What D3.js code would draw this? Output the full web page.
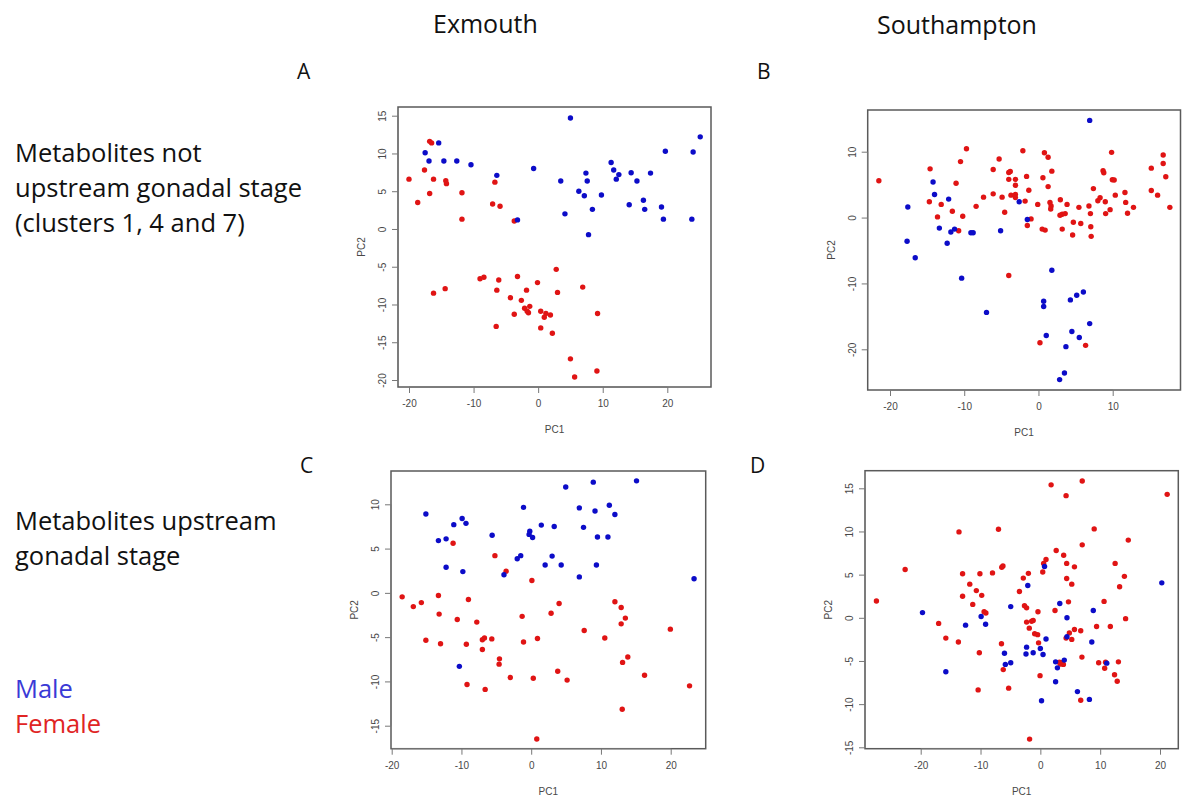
<!DOCTYPE html>
<html>
<head>
<meta charset="utf-8">
<script src="https://cdn.jsdelivr.net/npm/d3@7"></script>
<style>
  body { margin: 0; background: #fff; }
  svg { display: block; }
  .lbl { font-family: "Open Sans", sans-serif; fill: #111; }
  .tick text { font-family: "Liberation Sans", Arial, sans-serif; font-size: 10px; fill: #484848; }
  .ttl { font-family: "Liberation Sans", Arial, sans-serif; font-size: 10px; fill: #484848; }
</style>
</head>
<body>
<svg id="chart" width="1184" height="798"></svg>
<script>
// PC1 / PC2 scores, [PC1, PC2]
const aMale = [[5.0,14.7],[25.1,12.2],[-15.4,11.4],[-17.5,10.1],[-16.9,9.0],[-14.6,9.0],[-12.6,9.0],[-10.4,8.5],
  [-6.4,7.1],[-0.7,8.0],[19.7,10.3],[24.0,10.2],[11.3,8.8],[11.7,7.8],[12.5,7.2],[12.1,6.6],[14.4,7.45],
  [15.3,6.35],[17.4,7.4],[7.4,7.4],[7.6,6.35],[3.5,6.35],[6.3,5.0],[7.15,4.4],[9.8,4.5],[14.1,3.2],
  [16.3,3.8],[16.5,2.6],[19.1,2.9],[8.4,2.6],[4.15,2.0],[-3.2,1.2],[19.4,1.3],[23.8,1.3],[7.8,-0.75]];
const aFemale = [[-16.8,11.6],[-16.5,11.4],[-17.6,7.8],[-20.0,6.6],[-16.2,6.6],[-14.3,6.4],[-14.2,6.0],[-6.7,6.2],
  [-16.8,4.7],[-11.8,4.8],[-18.65,3.5],[-7.05,3.3],[-5.9,3.0],[-11.8,1.3],[-3.7,1.05],[2.8,-5.35],[-9.0,-6.6],
  [-8.4,-6.4],[-3.2,-6.3],[-6.1,-6.75],[-0.1,-7.1],[6.9,-7.7],[-6.4,-8.1],[-1.8,-8.1],[3.0,-8.4],[-16.2,-8.5],
  [-14.4,-7.9],[-4.3,-9.1],[-2.6,-9.45],[-1.3,-10.25],[-2.1,-10.5],[-1.5,-11.1],[-1.7,-10.9],[-3.7,-11.3],
  [0.4,-10.9],[1.2,-11.2],[0.95,-11.7],[1.9,-11.4],[9.2,-11.2],[-6.5,-12.9],[0.4,-13.1],[2.2,-13.8],
  [5.0,-17.2],[5.65,-19.6],[9.1,-18.8]];

const bMale = [[6.9,14.75],[-14.2,5.4],[-14.0,3.5],[-17.6,1.6],[-12.1,2.8],[-2.6,2.4],[-13.35,-1.6],[-11.8,-2.2],
  [-11.3,-1.75],[-9.1,-2.3],[-8.8,-2.3],[-5.1,-2.0],[-1.5,-0.3],[-12.3,-3.9],[-17.7,-3.6],[-16.6,-6.1],
  [-10.35,-9.2],[1.8,-8.0],[0.7,-12.7],[0.7,-13.5],[4.3,-12.5],[5.15,-11.8],[6.05,-11.3],[6.9,-16.1],
  [4.5,-17.3],[1.05,-17.9],[5.5,-18.2],[3.7,-19.6],[3.5,-23.6],[2.85,-24.6],[-7.0,-14.4]];
const bFemale = [[-21.5,5.6],[-14.6,7.4],[-14.7,2.4],[-13.1,2.0],[-13.6,0.1],[-11.6,0.95],[-11.1,5.2],[-10.5,8.5],
  [-9.7,10.45],[-10.2,0.2],[-10.75,-2.0],[-8.4,1.7],[-7.4,3.1],[-6.1,7.3],[-6.1,3.6],[-5.3,8.9],[-4.9,3.1],
  [-4.55,0.8],[-4.0,-8.8],[-4.0,6.85],[-3.8,7.0],[-4.0,5.8],[-3.7,3.4],[-3.1,5.8],[-3.1,4.9],[-3.1,3.5],
  [-3.1,3.05],[-2.1,10.15],[-1.6,6.25],[-1.8,2.5],[-1.3,4.15],[-1.5,-1.2],[-1.0,-0.2],[-0.1,2.0],[0.8,9.85],
  [0.6,6.05],[1.3,9.15],[1.3,4.7],[1.55,2.3],[1.7,1.75],[1.65,1.3],[1.8,7.05],[0.5,-1.75],[0.9,-1.9],
  [2.95,2.7],[2.9,0.35],[3.2,0.5],[3.6,0.6],[3.85,2.0],[3.2,-1.75],[0.2,-19.0],[4.6,-2.65],[4.7,-0.7],
  [5.45,1.55],[5.7,-0.9],[6.35,-19.4],[6.8,1.75],[7.0,0.6],[7.05,-1.4],[7.1,-2.85],[7.4,4.4],[8.0,2.55],
  [8.3,3.0],[8.7,7.1],[8.8,6.8],[9.0,2.4],[9.05,0.6],[9.65,1.2],[9.85,9.9],[9.95,5.75],[10.2,5.7],[10.35,3.4],
  [11.65,3.8],[11.75,2.3],[12.0,0.65],[12.8,1.55],[15.2,7.5],[15.2,4.1],[16.05,3.4],[16.8,9.5],[16.8,8.2],
  [17.15,6.2],[17.7,1.55]];

const cMale = [[-15.1,8.9],[-13.3,5.9],[-12.2,6.1],[-11.1,7.7],[-9.9,8.4],[-9.35,7.85],[-12.2,2.9],[-9.8,2.4],
  [-5.6,6.5],[-1.1,9.65],[-2.0,3.85],[-1.5,4.2],[-3.9,2.05],[-0.2,6.95],[-0.3,6.6],[0.2,6.25],[1.45,7.65],
  [3.3,7.5],[2.0,3.15],[3.0,4.15],[4.3,3.15],[4.95,11.95],[6.9,9.6],[7.5,7.4],[8.9,12.5],[9.15,9.25],
  [9.5,6.3],[9.35,3.15],[6.9,1.8],[11.2,9.9],[12.0,8.85],[11.0,6.3],[15.1,12.65],[23.35,1.6],[-10.3,-8.3]];
const cFemale = [[-11.2,5.6],[-5.2,4.2],[-3.6,2.45],[0.1,1.4],[-18.5,-0.45],[-16.9,-1.55],[-15.75,-1.1],[-13.3,-0.3],
  [-9.0,-0.75],[-13.2,-2.4],[-10.6,-3.0],[-7.8,-3.3],[-15.1,-5.35],[-13.0,-5.75],[-9.3,-5.8],[-7.0,-5.3],
  [-6.7,-5.1],[-5.65,-5.2],[-7.0,-6.4],[-4.55,-7.45],[-4.6,-8.05],[-9.2,-10.35],[-6.6,-10.9],[-3.0,-9.55],
  [-1.3,-2.65],[-1.1,-5.55],[0.9,-5.15],[0.3,-9.65],[0.8,-16.5],[2.85,-2.3],[4.0,-1.2],[3.8,-8.85],
  [5.15,-9.85],[7.6,-4.25],[10.55,-5.1],[12.0,-1.0],[12.9,-1.65],[13.5,-2.85],[12.9,-3.5],[13.85,-7.25],
  [13.1,-7.85],[13.05,-13.15],[16.25,-9.3],[19.95,-4.1],[22.7,-10.5]];

const dMale = [[-19.7,0.6],[-12.5,-0.85],[-9.9,0.15],[-9.15,-0.75],[-15.8,-6.25],[-6.0,-4.1],[-5.85,-5.4],
  [-4.95,-5.2],[-4.95,1.3],[-2.1,3.75],[0.7,5.95],[-2.3,-3.4],[-2.4,-4.2],[-1.2,-4.05],[0.0,-3.55],
  [0.45,-4.25],[0.95,-2.45],[0.2,-9.6],[2.55,-5.1],[2.85,-5.8],[2.55,-7.4],[3.25,1.65],[4.0,-4.9],
  [4.45,0.0],[4.45,-2.2],[8.6,-2.8],[8.85,0.85],[6.2,-8.55],[8.2,-9.45],[11.1,-5.25],[20.3,4.05]];
const dFemale = [[-27.4,1.95],[-22.6,5.6],[-17.0,-0.65],[-15.8,-2.35],[-13.6,9.95],[-13.0,5.1],[-13.0,2.5],
  [-13.7,-2.8],[-11.8,3.9],[-11.3,1.55],[-10.7,3.15],[-10.1,5.1],[-9.8,2.6],[-9.4,0.7],[-9.1,0.55],
  [-8.0,5.2],[-10.2,-4.05],[-10.4,-8.35],[-7.0,10.25],[-6.5,-3.0],[-6.45,5.85],[-6.25,6.0],[-6.2,-6.0],
  [-5.3,-8.15],[-3.5,3.05],[-2.85,4.6],[-2.65,1.4],[-2.3,1.15],[-2.3,-0.5],[-2.0,5.15],[-1.85,-1.2],
  [-1.45,-0.4],[-1.2,-0.3],[-0.95,-1.85],[-0.4,0.7],[-0.45,-1.95],[-0.3,-2.9],[-0.05,-6.7],[-1.8,-14.05],
  [0.4,5.3],[0.55,6.3],[0.95,6.75],[1.8,15.4],[2.45,0.85],[2.65,7.8],[3.9,7.25],[4.3,14.15],[4.4,6.3],
  [4.4,4.55],[4.7,1.85],[4.85,-1.75],[5.25,3.9],[5.7,5.9],[5.7,-1.35],[5.25,-2.5],[4.3,-2.35],[7.0,15.85],
  [7.0,8.45],[6.75,-1.5],[6.95,-4.55],[6.75,-9.55],[9.0,10.3],[9.4,-1.0],[9.75,-5.2],[10.65,1.9],
  [10.75,-5.85],[10.9,-5.15],[11.7,-1.0],[12.5,6.3],[12.4,-6.6],[12.85,-7.35],[13.05,-5.1],[13.25,3.6],
  [14.05,4.8],[14.25,-0.1],[14.7,9.0],[21.2,14.3],[3.2,-5.15],[3.4,-5.35],[3.6,-5.2],[3.85,-5.4],[3.3,-5.3]];

// tick values per panel
const aXTicks = [-20, -10, 0, 10, 20], aYTicks = [-20, -15, -10, -5, 0, 5, 10, 15];
const bXTicks = [-20, -10, 0, 10], bYTicks = [-20, -10, 0, 10];
const cXTicks = [-20, -10, 0, 10, 20], cYTicks = [-15, -10, -5, 0, 5, 10];
const dXTicks = [-20, -10, 0, 10, 20], dYTicks = [-15, -10, -5, 0, 5, 10, 15];

const MALE = "#0c0cc8", FEMALE = "#e01414";

const svg = d3.select("#chart");

// plot frames on the page: box edges plus where two ticks sit on each axis
const panels = [
  { male: aMale, female: aFemale, xt: aXTicks, yt: aYTicks, box: [398, 711, 107, 387],
    xs: [[-20, 20], [409, 667.3]], ys: [[15, -20], [115.7, 380]] },
  { male: bMale, female: bFemale, xt: bXTicks, yt: bYTicks, box: [867.7, 1180.5, 110, 390],
    xs: [[-20, 10], [890, 1112.7]], ys: [[10, -20], [151.7, 349.3]] },
  { male: cMale, female: cFemale, xt: cXTicks, yt: cYTicks, box: [391, 705.7, 471, 748.7],
    xs: [[-20, 20], [391.7, 670.7]], ys: [[10, -15], [504.3, 725.7]] },
  { male: dMale, female: dFemale, xt: dXTicks, yt: dYTicks, box: [865, 1178.3, 470.7, 748.7],
    xs: [[-20, 20], [920.7, 1160]], ys: [[15, -15], [488.3, 747.3]] }
];

// R prints a plain hyphen for negatives
const fmt = (d) => String(d);

const drawPanel = (p) => {
  const [x0, x1, y0, y1] = p.box;
  const x = d3.scaleLinear().domain(p.xs[0]).range(p.xs[1]);
  const y = d3.scaleLinear().domain(p.ys[0]).range(p.ys[1]);
  const g = svg.append("g");

  // points, females first like the R plot order
  const pts = [...p.female.map((d) => ({ v: d, c: FEMALE })), ...p.male.map((d) => ({ v: d, c: MALE }))];
  g.selectAll("circle")
    .data(pts)
    .join("circle")
    .attr("cx", (d) => x(d.v[0]))
    .attr("cy", (d) => y(d.v[1]))
    .attr("r", 2.7)
    .attr("fill", (d) => d.c);

  g.append("rect")
    .attr("x", x0).attr("y", y0)
    .attr("width", x1 - x0).attr("height", y1 - y0)
    .attr("fill", "none").attr("stroke", "#5a5a5a").attr("stroke-width", 1.5);

  const xa = g.append("g")
    .attr("transform", `translate(0,${y1})`)
    .call(d3.axisBottom(x).tickValues(p.xt).tickFormat(fmt).tickSize(6).tickPadding(7));
  xa.select(".domain")
    .attr("d", `M${x(p.xt[0])},0H${x(p.xt[p.xt.length - 1])}`)
    .attr("stroke", "#777");
  xa.selectAll(".tick line").attr("stroke", "#777");

  const ya = g.append("g")
    .attr("transform", `translate(${x0},0)`)
    .call(d3.axisLeft(y).tickValues(p.yt).tickFormat(fmt).tickSize(6).tickPadding(5));
  ya.select(".domain")
    .attr("d", `M0,${y(p.yt[0])}V${y(p.yt[p.yt.length - 1])}`)
    .attr("stroke", "#777");
  ya.selectAll(".tick line").attr("stroke", "#777");
  ya.selectAll(".tick text")
    .attr("x", null).attr("dy", null)
    .attr("text-anchor", "middle")
    .attr("transform", "translate(-12,0) rotate(-90)");

  g.append("text").attr("class", "ttl")
    .attr("x", (x0 + x1) / 2).attr("y", y1 + 46)
    .attr("text-anchor", "middle").text("PC1");
  g.append("text").attr("class", "ttl")
    .attr("transform", `translate(${x0 - 33},${(y0 + y1) / 2}) rotate(-90)`)
    .attr("text-anchor", "middle").text("PC2");
};

panels.forEach(drawPanel);

// headings, panel letters and row labels
const txt = (s, x, y, size, col) =>
  svg.append("text").attr("class", "lbl")
    .attr("x", x).attr("y", y)
    .style("font-size", size + "px")
    .style("fill", col || "#111")
    .text(s);

txt("Exmouth", 433, 33, 25);
txt("Southampton", 877, 34, 25);
txt("A", 297, 79, 21);
txt("B", 757, 79, 21);
txt("C", 300, 473, 21);
txt("D", 750, 473, 21);

txt("Metabolites not", 15, 162, 25.5);
txt("upstream gonadal stage", 15, 197, 25.5);
txt("(clusters 1, 4 and 7)", 15, 232, 25.5);
txt("Metabolites upstream", 15, 530, 25.5);
txt("gonadal stage", 15, 565, 25.5);
txt("Male", 15, 698, 25.5, "#3a3ad6");
txt("Female", 15, 733, 25.5, "#e02424");
</script>
</body>
</html>
